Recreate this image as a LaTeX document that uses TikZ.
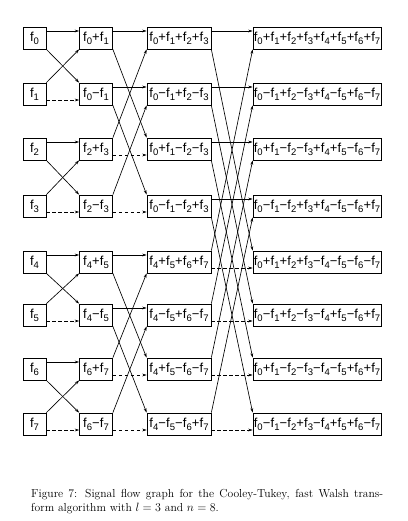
\documentclass[tikz,border=0pt]{standalone}
\usepackage{fontspec}
\newfontfamily\boxfont{Liberation Sans}
\usetikzlibrary{arrows.meta}
\newcommand{\fs}[1]{f\kern0.1pt\raisebox{-3pt}{\fontsize{9.5}{9.5}\selectfont #1}}
\newcommand{\mi}{\kern0.1pt−\kern0.1pt}
\newcommand{\pl}{\kern0.1pt+\kern0.1pt}
\begin{document}
\begin{tikzpicture}[x=1pt,y=-1pt,
  bx/.style={draw, line width=0.7pt, minimum height=22pt, inner sep=0.5pt,
    font=\boxfont\fontsize{13}{13}\selectfont},
  ca/.style={bx, minimum width=23pt},
  cb/.style={bx, minimum width=33pt},
  cc/.style={bx, minimum width=64pt},
  cd/.style={bx, minimum width=128pt},
  sol/.style={-{Stealth[length=4.5pt,width=2.8pt]}, line width=0.65pt},
  dsh/.style={sol, dash pattern=on 3.5pt off 2.5pt},
  captxt/.style={font=\fontsize{11.6}{13}\selectfont, inner sep=0pt, anchor=base west}]
\useasboundingbox (0,0) rectangle (407,521);
% rows
\def\ya{38}\def\yb{94}\def\yc{149}\def\yd{206}
\def\ye{262}\def\yf{315}\def\yg{369}\def\yh{424}
% column 1
\node[ca] (a0) at (34.5,\ya) {\fs0};
\node[ca] (a1) at (34.5,\yb) {\fs1};
\node[ca] (a2) at (34.5,\yc) {\fs2};
\node[ca] (a3) at (34.5,\yd) {\fs3};
\node[ca] (a4) at (34.5,\ye) {\fs4};
\node[ca] (a5) at (34.5,\yf) {\fs5};
\node[ca] (a6) at (34.5,\yg) {\fs6};
\node[ca] (a7) at (34.5,\yh) {\fs7};
% column 2
\node[cb] (b0) at (96,\ya) {\fs0\pl\fs1};
\node[cb] (b1) at (96,\yb) {\fs0\mi\fs1};
\node[cb] (b2) at (96,\yc) {\fs2\pl\fs3};
\node[cb] (b3) at (96,\yd) {\fs2\mi\fs3};
\node[cb] (b4) at (96,\ye) {\fs4\pl\fs5};
\node[cb] (b5) at (96,\yf) {\fs4\mi\fs5};
\node[cb] (b6) at (96,\yg) {\fs6\pl\fs7};
\node[cb] (b7) at (96,\yh) {\fs6\mi\fs7};
% column 3
\node[cc] (c0) at (179,\ya) {\fs0\pl\fs1\pl\fs2\pl\fs3};
\node[cc] (c1) at (179,\yb) {\fs0\mi\fs1\pl\fs2\mi\fs3};
\node[cc] (c2) at (179,\yc) {\fs0\pl\fs1\mi\fs2\mi\fs3};
\node[cc] (c3) at (179,\yd) {\fs0\mi\fs1\mi\fs2\pl\fs3};
\node[cc] (c4) at (179,\ye) {\fs4\pl\fs5\pl\fs6\pl\fs7};
\node[cc] (c5) at (179,\yf) {\fs4\mi\fs5\pl\fs6\mi\fs7};
\node[cc] (c6) at (179,\yg) {\fs4\pl\fs5\mi\fs6\mi\fs7};
\node[cc] (c7) at (179,\yh) {\fs4\mi\fs5\mi\fs6\pl\fs7};
% column 4
\node[cd] (d0) at (317,\ya) {\fs0\pl\fs1\pl\fs2\pl\fs3\pl\fs4\pl\fs5\pl\fs6\pl\fs7};
\node[cd] (d1) at (317,\yb) {\fs0\mi\fs1\pl\fs2\mi\fs3\pl\fs4\mi\fs5\pl\fs6\mi\fs7};
\node[cd] (d2) at (317,\yc) {\fs0\pl\fs1\mi\fs2\mi\fs3\pl\fs4\pl\fs5\mi\fs6\mi\fs7};
\node[cd] (d3) at (317,\yd) {\fs0\mi\fs1\mi\fs2\pl\fs3\pl\fs4\mi\fs5\mi\fs6\pl\fs7};
\node[cd] (d4) at (317,\ye) {\fs0\pl\fs1\pl\fs2\pl\fs3\mi\fs4\mi\fs5\mi\fs6\mi\fs7};
\node[cd] (d5) at (317,\yf) {\fs0\mi\fs1\pl\fs2\mi\fs3\mi\fs4\pl\fs5\mi\fs6\pl\fs7};
\node[cd] (d6) at (317,\yg) {\fs0\pl\fs1\mi\fs2\mi\fs3\mi\fs4\mi\fs5\pl\fs6\pl\fs7};
\node[cd] (d7) at (317,\yh) {\fs0\mi\fs1\mi\fs2\pl\fs3\mi\fs4\pl\fs5\pl\fs6\mi\fs7};
% butterflies
\foreach \S/\T/\i/\j in {a/b/0/1,a/b/2/3,a/b/4/5,a/b/6/7,
                         b/c/0/2,b/c/1/3,b/c/4/6,b/c/5/7,
                         c/d/0/4,c/d/1/5,c/d/2/6,c/d/3/7}{
  \draw[sol] ([yshift=7pt]\S\i.east) -- ([yshift=7pt]\T\i.west);
  \draw[sol] (\S\i.south east) -- (\T\j.north west);
  \draw[sol] (\S\j.north east) -- (\T\i.south west);
  \draw[dsh] ([yshift=-6pt]\S\j.east) -- ([yshift=-6pt]\T\j.west);
}
% caption
\node[captxt] (cap1) at (31,497) {\makebox[352pt][s]{Figure 7: Signal flow graph for the Cooley-Tukey, fast Walsh trans-}};
\node[captxt] (cap2) at (31,511) {form algorithm with $l = 3$ and $n = 8$.};
\end{tikzpicture}
\end{document}
